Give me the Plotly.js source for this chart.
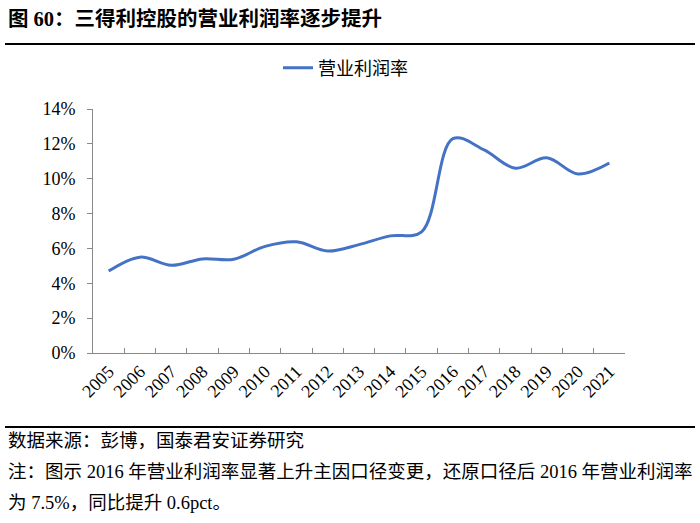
<!DOCTYPE html>
<html>
<head>
<meta charset="utf-8">
<script src="https://cdn.plot.ly/plotly-3.0.1.min.js"></script>
<style>html,body{margin:0;padding:0;background:#fff;}#chart{width:700px;height:523px;}</style>
</head>
<body>
<div id="chart"></div>
<script>
const years = ["2005","2006","2007","2008","2009","2010","2011","2012","2013","2014","2015","2016","2017","2018","2019","2020","2021"];
const margin = [4.7, 5.5, 5.03, 5.4, 5.38, 6.12, 6.38, 5.85, 6.22, 6.72, 6.95, 12.3, 11.65, 10.6, 11.2, 10.27, 10.9];
const seriesName = "营业利润率";
const yTicks = [0, 2, 4, 6, 8, 10, 12, 14];
const titleText = "图 60：三得利控股的营业利润率逐步提升";
const sourceText = "数据来源：彭博，国泰君安证券研究";
const noteLine1 = "注：图示 2016 年营业利润率显著上升主因口径变更，还原口径后 2016 年营业利润率";
const noteLine2 = "为 7.5%，同比提升 0.6pct。";

const FONT = "Liberation Serif, Noto Sans CJK SC, serif";
const W = 700, H = 523, L = 93, R = 75, T = 109, B = 170;
const pw = W - L - R, ph = H - T - B;
const px = x => (x - L) / pw;
const py = y => (H - B - y) / ph;

const trace = {
  x: years, y: margin, type: "scatter", mode: "lines", name: seriesName,
  line: {color: "#4472C4", width: 3, shape: "spline", smoothing: 1}
};

const layout = {
  width: W, height: H,
  margin: {l: L, r: R, t: T, b: B, pad: 0},
  paper_bgcolor: "#fff", plot_bgcolor: "#fff",
  font: {family: FONT, size: 17, color: "#000"},
  showlegend: true,
  legend: {x: px(278), y: py(68), xanchor: "left", yanchor: "middle", orientation: "h",
           font: {family: FONT, size: 18, color: "#000"}, bgcolor: "rgba(0,0,0,0)"},
  xaxis: {type: "category", range: [-0.5, years.length - 0.5], showline: true, linecolor: "#898989", linewidth: 1,
          ticks: "inside", tickson: "boundaries", ticklen: 5, tickcolor: "#898989", showgrid: false,
          tickangle: -45, tickfont: {family: FONT, size: 18, color: "#000"}, fixedrange: true},
  yaxis: {range: [0, 14], tickvals: yTicks, ticktext: yTicks.map(v => v + "%"), showline: true,
          linecolor: "#898989", linewidth: 1, ticks: "outside", ticklen: 5, tickcolor: "#898989",
          showgrid: false, zeroline: false, tickfont: {family: FONT, size: 18, color: "#000"}, ticklabelstandoff: 8},
  shapes: [
    {type: "line", xref: "paper", yref: "paper", x0: px(5), x1: px(695), y0: py(44), y1: py(44), line: {color: "#000", width: 2}},
    {type: "line", xref: "paper", yref: "paper", x0: px(5), x1: px(695), y0: py(427), y1: py(427), line: {color: "#000", width: 2}}
  ],
  annotations: [
    {text: "<b>" + titleText + "</b>", xref: "paper", yref: "paper", x: px(6), y: py(19), xanchor: "left", yanchor: "middle",
     showarrow: false, font: {family: FONT, size: 20.5, color: "#000"}},
    {text: sourceText, xref: "paper", yref: "paper", x: px(6), y: py(441), xanchor: "left", yanchor: "middle",
     showarrow: false, font: {family: FONT, size: 18.5, color: "#000"}},
    {text: noteLine1, xref: "paper", yref: "paper", x: px(6), y: py(472), xanchor: "left", yanchor: "middle",
     showarrow: false, font: {family: FONT, size: 18.5, color: "#000"}},
    {text: noteLine2, xref: "paper", yref: "paper", x: px(6), y: py(503), xanchor: "left", yanchor: "middle",
     showarrow: false, font: {family: FONT, size: 18.5, color: "#000"}}
  ]
};

Plotly.newPlot("chart", [trace], layout, {displayModeBar: false, staticPlot: true});
</script>
</body>
</html>
